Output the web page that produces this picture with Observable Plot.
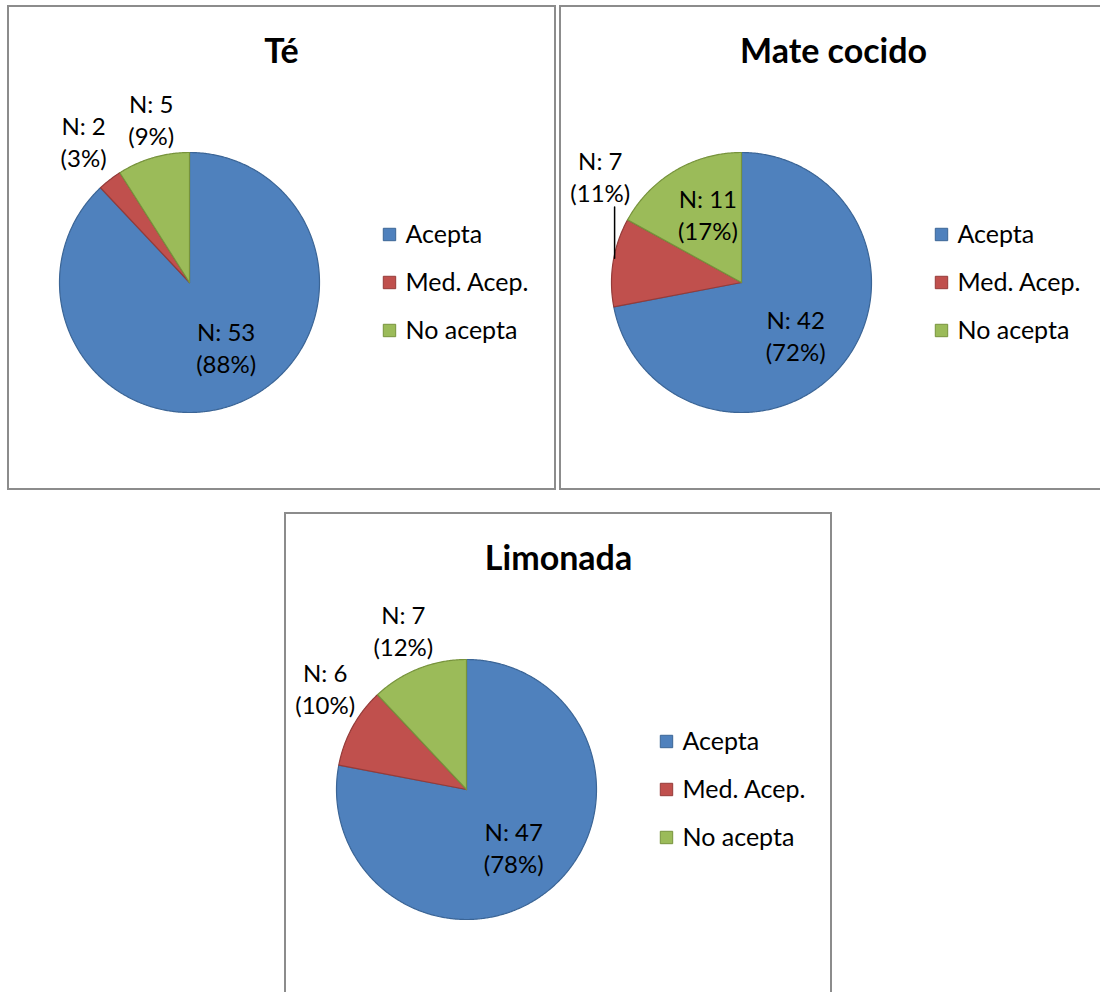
<!DOCTYPE html>
<html>
<head>
<meta charset="utf-8">
<script src="https://cdn.jsdelivr.net/npm/d3@7"></script>
<script src="https://cdn.jsdelivr.net/npm/@observablehq/plot@0.6"></script>
<style>
  html, body { margin: 0; padding: 0; background: #fff; }
  #root { position: relative; width: 1100px; height: 992px; overflow: hidden; background: #fff; }
  .panel { position: absolute; box-sizing: border-box; border: 2px solid #8c8c8c; background: #fff; }
  .panel svg { display: block; }
</style>
</head>
<body>
<div id="root"></div>
<script>
// ---------- DATA ----------
const CATEGORIES = ["Acepta", "Med. Acep.", "No acepta"];
const CHART_TITLES = ["Té", "Mate cocido", "Limonada"];
const COUNTS_TE = [53, 2, 5];
const PCT_TE = [88, 3, 9];
const COUNTS_MATE = [42, 7, 11];
const PCT_MATE = [72, 11, 17];
const COUNTS_LIMONADA = [47, 6, 7];
const PCT_LIMONADA = [78, 10, 12];

// ---------- STYLE / LAYOUT ----------
const FILLS = ["#4F81BD", "#C0504D", "#9BBB59"];
const STROKES = ["#3B6596", "#953B39", "#77933C"];
const FONT = "Lato, 'Open Sans', sans-serif";
const PANELS = [
  {left: 7, top: 5, width: 549, height: 485},
  {left: 559, top: 5, width: 549, height: 485},
  {left: 284, top: 512, width: 548, height: 485}
];
const G = {cx: 180, cy: 275, r: 130, titleX: 272, titleY: 45,
           legendX: 380, legendY0: 227, legendStep: 48, legendTextDx: 16};
// label placement per chart (Excel "best fit"): [radius factor, angle nudge in degrees]
const LABEL_PLACE = [
  [[0.57, -8], [1.36, 1], [1.29, 3]],
  [[0.58, 4.5], [1.36, 28], [0.59, 4.6]],
  [[0.57, 0], [1.34, 7], [1.32, 0]]
];
const LEADER = [null, {slice: 1, gap: 31}, null];

const CHARTS = [
  {title: CHART_TITLES[0], counts: COUNTS_TE, pct: PCT_TE},
  {title: CHART_TITLES[1], counts: COUNTS_MATE, pct: PCT_MATE},
  {title: CHART_TITLES[2], counts: COUNTS_LIMONADA, pct: PCT_LIMONADA}
];

const root = document.getElementById("root");

CHARTS.forEach((chart, ci) => {
  const P = PANELS[ci];
  const W = P.width - 4, H = P.height - 4;
  const total = d3.sum(chart.pct);
  // slice angles (clockwise from 12 o'clock)
  let acc = 0;
  const slices = chart.pct.map((v, i) => {
    const a0 = acc / total * 2 * Math.PI;
    acc += v;
    const a1 = acc / total * 2 * Math.PI;
    return {i, cat: CATEGORIES[i], a0, a1, count: chart.counts[i], pct: v};
  });
  const px = (a, rr) => G.cx + rr * G.r * Math.sin(a);
  const py = (a, rr) => G.cy - rr * G.r * Math.cos(a);

  const marks = [];
  slices.forEach(s => {
    const n = Math.max(2, Math.ceil((s.a1 - s.a0) / (Math.PI / 360)));
    const pts = [{x: G.cx, y: G.cy}];
    for (let k = 0; k <= n; k++) {
      const a = s.a0 + (s.a1 - s.a0) * k / n;
      pts.push({x: px(a, 1), y: py(a, 1)});
    }
    pts.push({x: G.cx, y: G.cy});
    marks.push(Plot.line(pts, {x: "x", y: "y", fill: FILLS[s.i], stroke: STROKES[s.i],
      strokeWidth: 1.2, strokeLinejoin: "round", curve: "linear"}));
  });

  // labels
  const labels = slices.map(s => {
    const [rr, nudge] = LABEL_PLACE[ci][s.i];
    const a = (s.a0 + s.a1) / 2 + nudge * Math.PI / 180;
    return {x: px(a, rr), y: py(a, rr), text: `N: ${s.count}\n(${s.pct}%)`};
  });
  marks.push(Plot.text(labels, {x: "x", y: "y", text: "text", fontSize: 24, lineHeight: 1.33,
    lineAnchor: "middle", textAnchor: "middle", fill: "#000"}));

  // leader line
  const L = LEADER[ci];
  if (L) {
    const s = slices[L.slice];
    const am = (s.a0 + s.a1) / 2;
    const ex = px(am, 1) + 1.5, ey = py(am, 1) - 4;
    marks.push(Plot.line([{x: ex, y: ey}, {x: ex, y: labels[L.slice].y + L.gap}],
      {x: "x", y: "y", stroke: "#000", strokeWidth: 1.5}));
  }

  // title
  marks.push(Plot.text([chart.title], {x: G.titleX, y: G.titleY, text: d => d, fontSize: 34,
    fontWeight: "bold", lineAnchor: "middle", textAnchor: "middle", fill: "#000"}));

  // legend
  const leg = CATEGORIES.map((c, i) => ({c, i, y: G.legendY0 + i * G.legendStep}));
  marks.push(Plot.dot(leg, {x: G.legendX, y: "y", symbol: "square", r: 7,
    fill: d => FILLS[d.i], stroke: d => STROKES[d.i], strokeWidth: 1}));
  marks.push(Plot.text(leg, {x: G.legendX + G.legendTextDx, y: "y", text: "c", fontSize: 25,
    textAnchor: "start", lineAnchor: "middle", fill: "#000"}));

  const svg = Plot.plot({
    width: W, height: H,
    margin: 0,
    x: {type: "linear", domain: [0, W], range: [0, W], axis: null},
    y: {type: "linear", domain: [0, H], range: [0, H], axis: null},
    color: {type: "identity"},
    style: {fontFamily: FONT, background: "#fff", overflow: "visible"},
    marks
  });
  const div = document.createElement("div");
  div.className = "panel";
  div.style.left = P.left + "px";
  div.style.top = P.top + "px";
  div.style.width = P.width + "px";
  div.style.height = P.height + "px";
  div.appendChild(svg);
  root.appendChild(div);
});
</script>
</body>
</html>
